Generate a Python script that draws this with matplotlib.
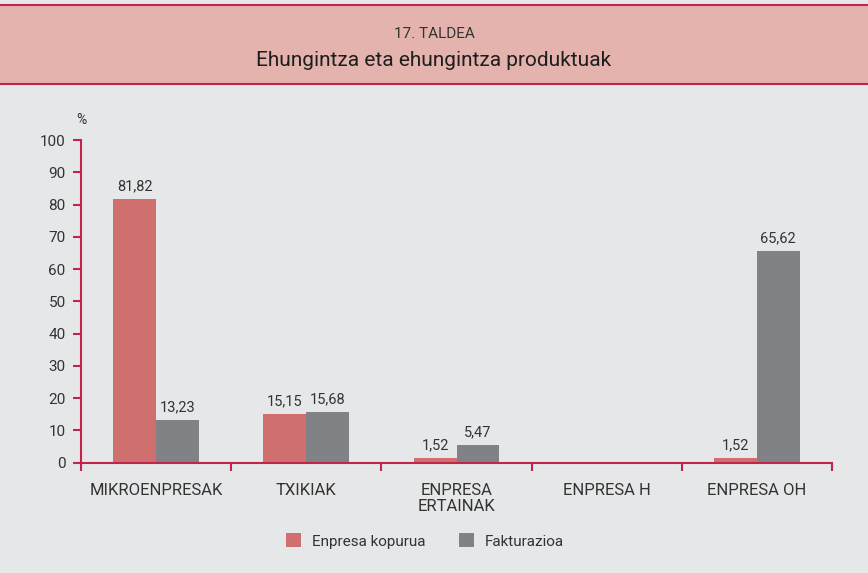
import numpy as np
import matplotlib.pyplot as plt
from matplotlib.patches import Rectangle
from matplotlib.lines import Line2D

categories = ['MIKROENPRESAK', 'TXIKIAK', 'ENPRESA\nERTAINAK', 'ENPRESA H', 'ENPRESA OH']
enpresa_kopurua = [81.82, 15.15, 1.52, 0, 1.52]
fakturazioa = [13.23, 15.68, 5.47, 0, 65.62]
series_names = ['Enpresa kopurua', 'Fakturazioa']
yticks = np.arange(0, 101, 10)

W, H = 868, 573
bg = '#e6e7e8'
header_c = '#e5b3ad'
axis_c = '#c2254b'
red = '#cf6f6e'
grey = '#818286'
txt = '#333333'
font = ['Roboto', 'DejaVu Sans']

fig = plt.figure(figsize=(W / 100, H / 100), dpi=100, facecolor=bg)

def fy(py):
    return 1 - py / H

# header band
fig.patches.append(Rectangle((0, fy(84)), 1, fy(5) - fy(84), transform=fig.transFigure,
                             facecolor=header_c, edgecolor='none', zorder=0))
for py in (5, 84):
    fig.lines.append(Line2D([0, 1], [fy(py), fy(py)], transform=fig.transFigure,
                            color=axis_c, lw=1.5))
fig.text(0.5, fy(34), '17. TALDEA', ha='center', va='center', fontsize=11,
         color=txt, family=font)
fig.text(0.5, fy(61), 'Ehungintza eta ehungintza produktuak', ha='center', va='center',
         fontsize=15, color='#1e1e1e', family=font)

ax = fig.add_axes([81 / W, fy(462.7), (832 - 81) / W, (462.7 - 140) / H])
ax.set_facecolor(bg)
ax.set_xlim(0, 5)
ax.set_ylim(0, 100)

x = np.arange(len(categories)) + 0.5
w = 0.285
ax.bar(x - w / 2, enpresa_kopurua, w, color=red, label=series_names[0], zorder=2)
ax.bar(x + w / 2, fakturazioa, w, color=grey, label=series_names[1], zorder=2)

def fmt(v):
    return f'{v:.2f}'.replace('.', ',')

for xi, v in zip(x - w / 2, enpresa_kopurua):
    if v > 0:
        ax.text(xi, v + 1.8, fmt(v), ha='center', va='bottom', fontsize=10.5,
                color=txt, family=font)
for xi, v in zip(x + w / 2, fakturazioa):
    if v > 0:
        ax.text(xi, v + 1.8, fmt(v), ha='center', va='bottom', fontsize=10.5,
                color=txt, family=font)

for s in ['top', 'right']:
    ax.spines[s].set_visible(False)
for s in ['left', 'bottom']:
    ax.spines[s].set_color(axis_c)
    ax.spines[s].set_linewidth(1.5)

ax.set_yticks(yticks)
ax.set_yticklabels([str(t) for t in yticks], family=font, fontsize=11, color=txt)
ax.tick_params(axis='y', length=6, width=1.5, color=axis_c, pad=5)
ax.set_xticks(np.arange(0, 6))
ax.set_xticklabels([])
ax.tick_params(axis='x', length=6, width=1.5, color=axis_c)
for xi, c in zip(x, categories):
    ax.text(xi, -6.3, c, ha='center', va='top', fontsize=12, color=txt,
            family=font, linespacing=1.1)
ax.text(0, 104, '%', ha='center', va='bottom', fontsize=10, color=txt, family=font)

leg = fig.legend(loc='center left', bbox_to_anchor=(272 / W, fy(541)), ncol=2, frameon=False,
                 prop={'family': font, 'size': 11}, handlelength=1.0, handleheight=1.0,
                 columnspacing=2.2, handletextpad=0.7)
for t in leg.get_texts():
    t.set_color(txt)

fig.savefig('out.png', dpi=100, facecolor=bg)
